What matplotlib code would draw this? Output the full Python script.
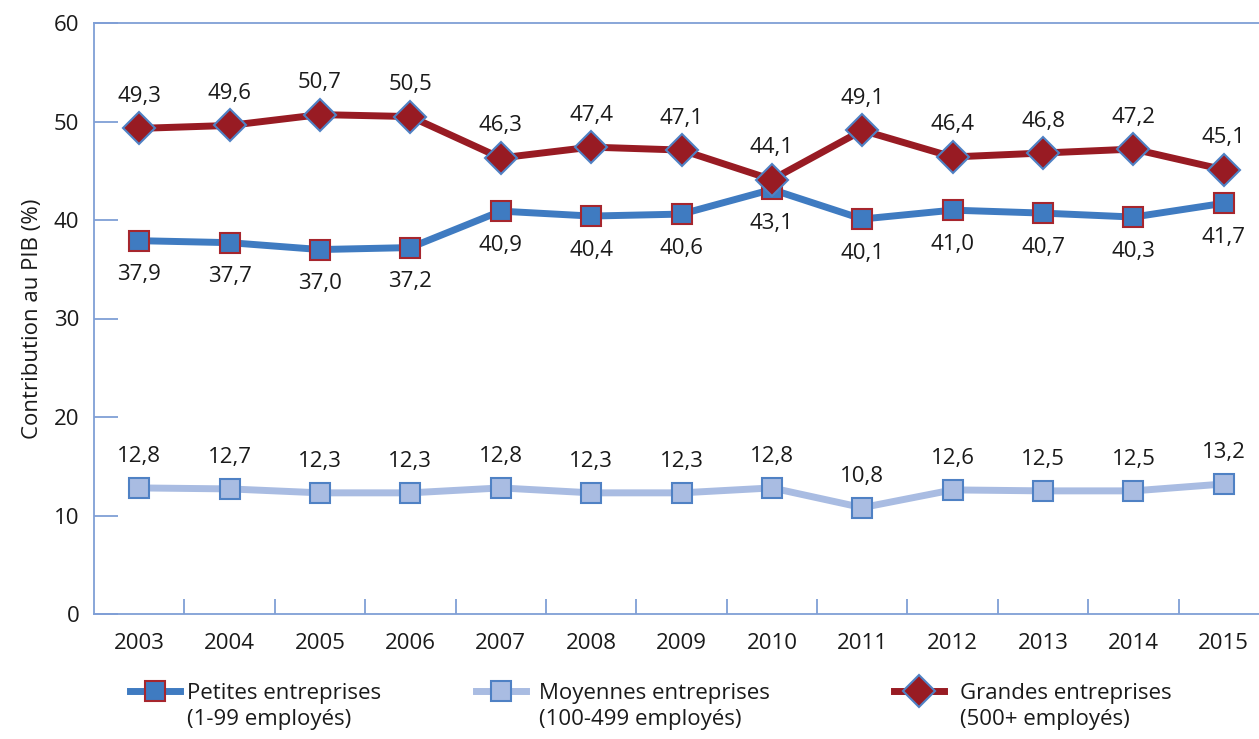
import matplotlib
matplotlib.use("Agg")
from matplotlib import pyplot as plt
from matplotlib.lines import Line2D

years = ["2003", "2004", "2005", "2006", "2007", "2008", "2009",
         "2010", "2011", "2012", "2013", "2014", "2015"]
petites = [37.9, 37.7, 37.0, 37.2, 40.9, 40.4, 40.6, 43.1, 40.1, 41.0, 40.7, 40.3, 41.7]
moyennes = [12.8, 12.7, 12.3, 12.3, 12.8, 12.3, 12.3, 12.8, 10.8, 12.6, 12.5, 12.5, 13.2]
grandes = [49.3, 49.6, 50.7, 50.5, 46.3, 47.4, 47.1, 44.1, 49.1, 46.4, 46.8, 47.2, 45.1]

plt.rcParams['font.family'] = ['Open Sans', 'DejaVu Sans']
txt = '#1a1a1a'
axis_col = '#7f9fd6'

red = '#981b23'
blue = '#3f7bc1'
light = '#a9bce2'
fs = 16

fig = plt.figure(figsize=(12.59, 7.39), dpi=100)
ax = fig.add_axes([94 / 1259, 1 - 614 / 739, 1175 / 1259, 591 / 739])
x = list(range(len(years)))

ax.plot(x, moyennes, color=light, lw=5, marker='s', ms=14,
        mfc=light, mec='#4f81c4', mew=1.5, zorder=2)
ax.plot(x, petites, color=blue, lw=5, marker='s', ms=14,
        mfc=blue, mec='#a6262e', mew=1.5, zorder=3)
ax.plot(x, grandes, color=red, lw=5, marker='D', ms=16,
        mfc=red, mec='#4f81c4', mew=1.5, zorder=4)

def lab(v):
    return f"{v:.1f}".replace('.', ',')

for i in x:
    ax.annotate(lab(grandes[i]), (i, grandes[i]), xytext=(0, 32), textcoords='offset pixels',
                ha='center', va='center', fontsize=fs, color=txt)
    ax.annotate(lab(petites[i]), (i, petites[i]), xytext=(0, -34), textcoords='offset pixels',
                ha='center', va='center', fontsize=fs, color=txt)
    ax.annotate(lab(moyennes[i]), (i, moyennes[i]), xytext=(0, 31), textcoords='offset pixels',
                ha='center', va='center', fontsize=fs, color=txt)

ax.set_xlim(-0.5, 12.5)
ax.set_ylim(0, 60)
ax.set_yticks(range(0, 61, 10))
ax.set_xticks(x)
ax.set_xticklabels(years)
ax.set_xticks([i + 0.5 for i in x], minor=True)

ax.spines['right'].set_visible(False)
for s in ['left', 'bottom', 'top']:
    ax.spines[s].set_color(axis_col)
    ax.spines[s].set_linewidth(1.3)

ax.tick_params(axis='y', direction='in', length=17, width=1.3, color=axis_col,
               labelsize=fs, labelcolor=txt, pad=-2)
ax.tick_params(axis='x', which='major', length=0, labelsize=fs, labelcolor=txt, pad=14)
ax.tick_params(axis='x', which='minor', direction='in', length=11, width=1.3, color=axis_col)
for t in ax.get_yticklabels():
    t.set_x(-0.015)

ax.set_ylabel("Contribution au PIB (%)", fontsize=16, color=txt, labelpad=8)

# legend: one small legend per series, second line of label added under it
entries = [
    (Line2D([], [], color=blue, lw=5, marker='s', ms=14, mfc=blue, mec='#a6262e', mew=1.5),
     "Petites entreprises", "(1-99 employés)", 130, 0.3),
    (Line2D([], [], color=light, lw=5, marker='s', ms=14, mfc=light, mec='#4f81c4', mew=1.5),
     "Moyennes entreprises", "(100-499 employés)", 476, 0.6),
    (Line2D([], [], color=red, lw=5, marker='D', ms=16, mfc=red, mec='#4f81c4', mew=1.5),
     "Grandes entreprises", "(500+ employés)", 894, 0.7),
]
legs = []
for h, l1, l2, xpx, pad in entries:
    leg = fig.legend([h], [l1], loc='center left', bbox_to_anchor=(xpx / 1259, 1 - 693 / 739),
                     frameon=False, fontsize=fs, handlelength=2.25, handletextpad=pad,
                     borderpad=0, borderaxespad=0)
    leg.get_texts()[0].set_color(txt)
    legs.append((leg, l2))

fig.canvas.draw()
for leg, l2 in legs:
    bb = leg.get_texts()[0].get_window_extent()
    fig.text(bb.x0 / 1259, 1 - 720 / 739, l2, fontsize=fs, color=txt, ha='left', va='center')

fig.savefig("out.png", dpi=100)
